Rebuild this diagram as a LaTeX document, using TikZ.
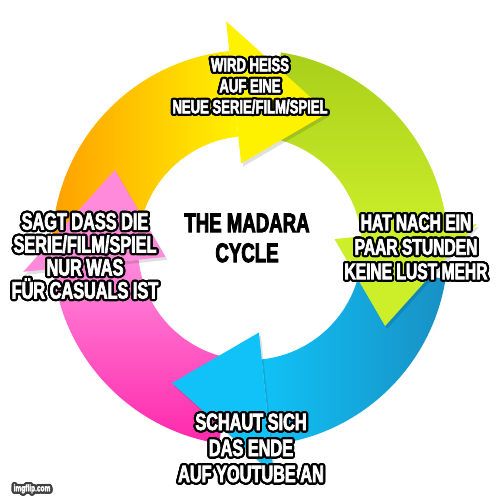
\documentclass[tikz,border=0pt]{standalone}
\usepackage{fontspec}
\usepackage{contour}
\usepackage{tikz}
\newfontfamily\memefont[FakeStretch=0.69, FakeBold=3]{Liberation Sans Bold}
\contourlength{2.2pt}
\contournumber{24}
\definecolor{orangeA}{HTML}{FFA000}
\definecolor{yellowA}{HTML}{FFF200}
\definecolor{greenA}{HTML}{A8CF1A}
\definecolor{greenB}{HTML}{CDEF2A}
\definecolor{blueA}{HTML}{1890C4}
\definecolor{blueB}{HTML}{10C2F7}
\definecolor{pinkA}{HTML}{FF8ADC}
\definecolor{pinkB}{HTML}{FF28AC}
\newcommand{\outl}[1]{\contour{black}{#1}}

\begin{document}
\begin{tikzpicture}[x=1pt, y=1pt]
\tikzset{Label/.style={text=white, align=center, font=\memefont\fontsize{23.6}{23}\selectfont}}
\tikzset{Head/.style={shift={(c)}}}
\tikzset{Shadow/.style={shift={(c)}, black, opacity=0.12, xshift=2pt, yshift=-3pt}}

\fill[white] (0,0) rectangle (500,500);
\useasboundingbox (0,0) rectangle (500,500);
\coordinate (c) at (250,252);

% bands
\shade[Head, left color=orangeA, right color=yellowA] (176:198pt) arc[start angle=176, end angle=96, radius=198pt] -- (96:112pt) arc[start angle=96, end angle=176, radius=112pt] -- cycle;
\shade[Head, top color=greenA, bottom color=greenB] (81:198pt) arc[start angle=81, end angle=6, radius=198pt] -- (6:112pt) arc[start angle=6, end angle=81, radius=112pt] -- cycle;
\shade[Head, right color=blueA, left color=blueB] (-9:198pt) arc[start angle=-9, end angle=-84, radius=198pt] -- (-84:112pt) arc[start angle=-84, end angle=-9, radius=112pt] -- cycle;
\shade[Head, top color=pinkA, bottom color=pinkB] (261:198pt) arc[start angle=261, end angle=186, radius=198pt] -- (186:112pt) arc[start angle=186, end angle=261, radius=112pt] -- cycle;

% heads
\fill[Shadow] (96:228pt) -- (60:156pt) -- (96:85pt) -- cycle;
\fill[Shadow] (6:228pt) -- (-30:156pt) -- (6:85pt) -- cycle;
\fill[Shadow] (-84:228pt) -- (-120:156pt) -- (-84:85pt) -- cycle;
\fill[Shadow] (186:228pt) -- (150:156pt) -- (186:85pt) -- cycle;
\fill[Head, yellowA] (96:228pt) -- (60:156pt) -- (96:85pt) -- cycle;
\fill[Head, greenB] (6:228pt) -- (-30:156pt) -- (6:85pt) -- cycle;
\fill[Head, blueB] (-84:228pt) -- (-120:156pt) -- (-84:85pt) -- cycle;
\fill[Head, pinkA] (186:228pt) -- (150:156pt) -- (186:85pt) -- cycle;

% labels
\node[Label, font=\memefont\fontsize{19}{21}\selectfont] (heiss) at (250,413) {\outl{WIRD HEISS}\\\outl{AUF EINE}\\\outl{NEUE SERIE/FILM/SPIEL}};
\node[Label, font=\memefont\fontsize{22.6}{24.5}\selectfont] (lust) at (416,252) {\outl{HAT NACH EIN}\\\outl{PAAR STUNDEN}\\\outl{KEINE LUST MEHR}};
\node[Label, font=\memefont\fontsize{23.6}{26}\selectfont] (ende) at (251,51) {\outl{SCHAUT SICH}\\\outl{DAS ENDE}\\\outl{AUF YOUTUBE AN}};
\node[Label] (casual) at (85,243) {\outl{SAGT DASS DIE}\\\outl{SERIE/FILM/SPIEL}\\\outl{NUR WAS}\\\outl{FÜR CASUALS IST}};
\node[align=center, font=\memefont\fontsize{27}{30}\selectfont] (madara) at (247,262) {THE MADARA\\CYCLE};
\node[text=white, font=\memefont\fontsize{9.5}{10}\selectfont] (imgflip) at (32,10) {\contour{darkgray}{imgflip.com}};
\end{tikzpicture}
\end{document}
